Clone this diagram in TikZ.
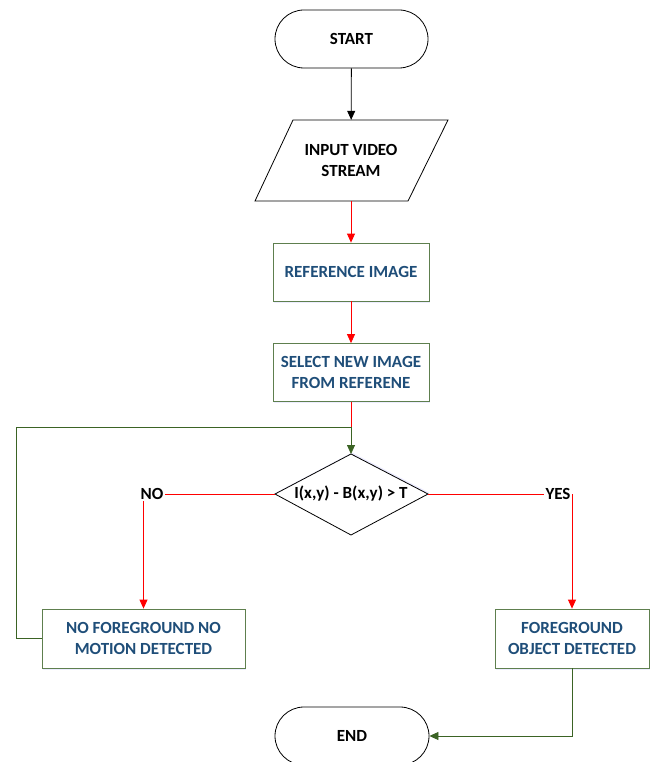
\documentclass[tikz,border=0pt]{standalone}
\usepackage{fontspec}
\setmainfont{Carlito}
\usetikzlibrary{arrows.meta,shadows}
\definecolor{boxgreen}{HTML}{5E7F4E}
\definecolor{txtblue}{HTML}{1F4E79}
\definecolor{lgreen}{HTML}{3B6324}
\begin{document}
\begin{tikzpicture}[x=1pt,y=-1pt,
  every node/.style={font=\fontsize{17}{21}\selectfont\bfseries},
  term/.style={draw, rounded corners=29pt, minimum width=153pt, minimum height=58pt, line width=0.8pt},
  proc/.style={draw=boxgreen, fill=white, minimum height=58pt, text=txtblue, align=center, line width=0.8pt,
    drop shadow={shadow xshift=1pt, shadow yshift=-1.5pt, fill=blue!15, opacity=0.5}},
  lbl/.style={inner sep=1pt},
  arr/.style={-{Triangle[length=9pt,width=8pt]}, line width=0.8pt},
  ln/.style={line width=0.8pt}]
\useasboundingbox (0,0) rectangle (652,762);
% nodes
\node[term] (start) at (351.5,39) {START};
\draw[line width=0.8pt] (255,201) -- (408,201) -- (448,120) -- (293,120) -- cycle;
\node[minimum width=150pt, minimum height=81pt, align=center] (inp) at (351,160.5) {INPUT VIDEO\\STREAM};
\node[proc, minimum width=156pt] (ref) at (351,272) {REFERENCE IMAGE};
\node[proc, minimum width=156pt] (sel) at (351,372.5) {SELECT NEW IMAGE\\FROM REFERENE};
\coordinate (dtop) at (351,454);
\coordinate (dbot) at (351,535);
\coordinate (dleft) at (275,494);
\coordinate (dright) at (428,494);
\fill[blue!15, opacity=0.5] ([xshift=1pt,yshift=1.5pt]dtop) -- ([xshift=1pt,yshift=1.5pt]dright) -- ([xshift=1pt,yshift=1.5pt]dbot) -- ([xshift=1pt,yshift=1.5pt]dleft) -- cycle;
\draw[line width=0.8pt, fill=white] (dtop) -- (dright) -- (dbot) -- (dleft) -- cycle;
\node (dec) at (351,494) {I(x,y) - B(x,y) > T};
\node[lbl] (no) at (152,494) {NO};
\node[lbl] (yes) at (558,494) {YES};
\node[proc, minimum width=203pt, minimum height=59pt] (nofg) at (143.5,638.5) {NO FOREGROUND NO\\MOTION DETECTED};
\node[proc, minimum width=154pt, minimum height=59pt] (fg) at (572,638.5) {FOREGROUND\\OBJECT DETECTED};
\node[term, minimum width=154pt] (end) at (352,736) {END};
\coordinate (join) at (351,427);
\coordinate (lc) at (16,427);
% connectors
\draw[arr, black] (start) -- (inp);
\draw[arr, red] (inp) -- (ref);
\draw[arr, red] (ref) -- (sel);
\draw[ln, red] (sel.south) -- (join);
\draw[arr, lgreen] (join) -- (dtop);
\draw[ln, lgreen] (nofg.west) -| (lc) -- (join);
\draw[ln, red] (dleft) -- (no.east);
\draw[arr, red] (nofg.north |- no.south) -- (nofg.north);
\draw[ln, red] (dright) -- (yes.west);
\draw[arr, red] (fg.north |- yes.east) -- (fg.north);
\draw[arr, lgreen] (fg.south) |- (end.east);
\end{tikzpicture}
\end{document}
